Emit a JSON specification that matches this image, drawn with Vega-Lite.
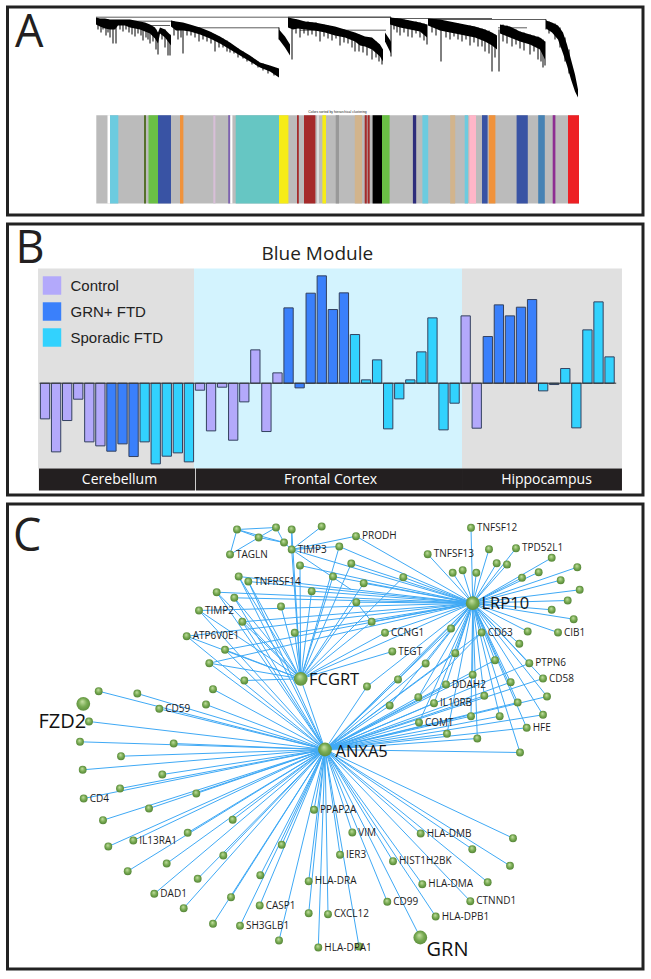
{
"$schema":"https://vega.github.io/schema/vega-lite/v6.json",
"padding":{"left":5.5,"top":5,"right":0,"bottom":0},
"background":"white",
"spacing":5,
"config":{"view":{"stroke":"#222222","strokeWidth":3}},
"resolve":{"scale":{"color":"independent"}},
"datasets":{
"strip":[
{"start":96.3,"end":579,"top":115.7,"bottom":204,"module":"grey"},{"start":107.5,"end":110,"top":115.7,"bottom":204,"module":"white"},{"start":110,"end":118.3,"top":115.7,"bottom":204,"module":"skyblue"},{"start":144,"end":146,"top":115.7,"bottom":204,"module":"darkolivegreen"},{"start":148.5,"end":158,"top":115.7,"bottom":204,"module":"green"},{"start":158,"end":171,"top":115.7,"bottom":204,"module":"blue"},{"start":180,"end":183.4,"top":115.7,"bottom":204,"module":"orange"},{"start":213.3,"end":215.4,"top":115.7,"bottom":204,"module":"thistle"},{"start":228.2,"end":230.3,"top":115.7,"bottom":204,"module":"mediumpurple"},{"start":230.3,"end":232.4,"top":115.7,"bottom":204,"module":"white"},{"start":235.7,"end":279,"top":115.7,"bottom":204,"module":"turquoise"},{"start":279,"end":288.4,"top":115.7,"bottom":204,"module":"yellow"},{"start":297,"end":298.8,"top":115.7,"bottom":204,"module":"brown"},{"start":304,"end":315.4,"top":115.7,"bottom":204,"module":"brown"},{"start":317.5,"end":318.5,"top":115.7,"bottom":204,"module":"white"},{"start":322.4,"end":326,"top":115.7,"bottom":204,"module":"yellow"},{"start":335.7,"end":339,"top":115.7,"bottom":204,"module":"darkgrey"},{"start":354.8,"end":362,"top":115.7,"bottom":204,"module":"tan"},{"start":364.7,"end":366.8,"top":115.7,"bottom":204,"module":"brown"},{"start":367.6,"end":369.7,"top":115.7,"bottom":204,"module":"brown"},{"start":372.6,"end":382,"top":115.7,"bottom":204,"module":"black"},{"start":382,"end":389.6,"top":115.7,"bottom":204,"module":"green"},{"start":412.9,"end":416.2,"top":115.7,"bottom":204,"module":"midnightblue"},{"start":422.4,"end":428.2,"top":115.7,"bottom":204,"module":"skyblue"},{"start":450.2,"end":455.2,"top":115.7,"bottom":204,"module":"tan"},{"start":464.7,"end":468,"top":115.7,"bottom":204,"module":"skyblue"},{"start":469.3,"end":476,"top":115.7,"bottom":204,"module":"pink"},{"start":482,"end":487.6,"top":115.7,"bottom":204,"module":"blue"},{"start":488.8,"end":495.4,"top":115.7,"bottom":204,"module":"orange"},{"start":516.6,"end":527.8,"top":115.7,"bottom":204,"module":"blue"},{"start":538.2,"end":544.8,"top":115.7,"bottom":204,"module":"steelblue"},{"start":552.7,"end":555.4,"top":115.7,"bottom":204,"module":"purple"},{"start":568,"end":579,"top":115.7,"bottom":204,"module":"red"}
],
"tree":[
{"b":1,"x":96,"t":18,"u":25},{"b":1,"x":100,"t":19,"u":27},{"b":1,"x":105,"t":19,"u":29},{"b":1,"x":110,"t":20,"u":30},{"b":1,"x":115,"t":20,"u":30},{"b":1,"x":118,"t":20,"u":26},{"b":1,"x":125,"t":20,"u":26},{"b":1,"x":130,"t":20,"u":28},{"b":1,"x":135,"t":21,"u":29},{"b":1,"x":140,"t":22,"u":30},{"b":1,"x":145,"t":23,"u":32},{"b":1,"x":150,"t":25,"u":34},{"b":1,"x":155,"t":28,"u":39},{"b":1,"x":158,"t":33,"u":44},{"b":1,"x":160,"t":28,"u":34},{"b":1,"x":165,"t":30,"u":38},{"b":1,"x":171,"t":36,"u":46},
{"b":2,"x":171,"t":21,"u":27},{"b":2,"x":176,"t":22,"u":31},{"b":2,"x":183,"t":23,"u":31},{"b":2,"x":190,"t":25,"u":32},{"b":2,"x":200,"t":28,"u":35},{"b":2,"x":210,"t":32,"u":39},{"b":2,"x":220,"t":37,"u":44},{"b":2,"x":230,"t":43,"u":50},{"b":2,"x":240,"t":50,"u":56},{"b":2,"x":250,"t":56,"u":62},{"b":2,"x":260,"t":63,"u":68},{"b":2,"x":270,"t":66,"u":72},{"b":2,"x":279,"t":69,"u":78},
{"b":3,"x":279,"t":30,"u":40},{"b":3,"x":285,"t":37,"u":48},{"b":3,"x":290,"t":45,"u":56},
{"b":4,"x":288,"t":18,"u":28},{"b":4,"x":293,"t":19,"u":30},{"b":4,"x":298,"t":20,"u":29},{"b":4,"x":305,"t":22,"u":30},{"b":4,"x":315,"t":23,"u":31},{"b":4,"x":325,"t":25,"u":33},{"b":4,"x":335,"t":27,"u":36},{"b":4,"x":345,"t":30,"u":38},{"b":4,"x":355,"t":33,"u":42},{"b":4,"x":360,"t":35,"u":46},{"b":4,"x":365,"t":37,"u":47},{"b":4,"x":372,"t":38,"u":50},{"b":4,"x":380,"t":45,"u":57},{"b":4,"x":383,"t":50,"u":62},
{"b":5,"x":385,"t":33,"u":42},{"b":5,"x":391,"t":42,"u":54},
{"b":6,"x":390,"t":18,"u":25},{"b":6,"x":400,"t":19,"u":28},{"b":6,"x":410,"t":21,"u":30},{"b":6,"x":420,"t":23,"u":32},{"b":6,"x":427,"t":25,"u":38},
{"b":7,"x":428,"t":19,"u":26},{"b":7,"x":440,"t":20,"u":31},{"b":7,"x":445,"t":21,"u":32},{"b":7,"x":455,"t":23,"u":34},{"b":7,"x":465,"t":25,"u":36},{"b":7,"x":475,"t":27,"u":38},{"b":7,"x":485,"t":30,"u":42},{"b":7,"x":492,"t":33,"u":46},{"b":7,"x":497,"t":36,"u":50},
{"b":8,"x":500,"t":25,"u":34},{"b":8,"x":510,"t":27,"u":38},{"b":8,"x":520,"t":32,"u":42},{"b":8,"x":530,"t":35,"u":45},{"b":8,"x":540,"t":38,"u":50},{"b":8,"x":545,"t":42,"u":60},
{"b":9,"x":546,"t":21,"u":29},{"b":9,"x":552,"t":23,"u":33},{"b":9,"x":558,"t":26,"u":40},{"b":9,"x":563,"t":33,"u":54},{"b":9,"x":567,"t":45,"u":66},{"b":9,"x":571,"t":60,"u":80},{"b":9,"x":575,"t":75,"u":92},{"b":9,"x":578,"t":90,"u":98}
],
"spikes":[
{"x":98,"t":20,"u":30},{"x":101,"t":20,"u":33},{"x":103,"t":20,"u":30},{"x":106,"t":20,"u":36},{"x":108,"t":20,"u":33},{"x":110,"t":22,"u":38},{"x":113,"t":25,"u":44},{"x":116,"t":25,"u":44},{"x":120,"t":22,"u":30},{"x":123,"t":22,"u":32},{"x":126,"t":22,"u":30},{"x":129,"t":22,"u":33},{"x":132,"t":22,"u":35},{"x":135,"t":25,"u":37},{"x":138,"t":25,"u":34},{"x":141,"t":25,"u":36},{"x":143,"t":25,"u":41},{"x":146,"t":25,"u":38},{"x":148,"t":25,"u":40},{"x":150,"t":28,"u":44},{"x":153,"t":28,"u":42},{"x":156,"t":30,"u":50},{"x":158,"t":35,"u":55},{"x":162,"t":30,"u":40},{"x":165,"t":30,"u":48},{"x":168,"t":35,"u":56},{"x":170,"t":35,"u":56},
{"x":174,"t":22,"u":36},{"x":178,"t":24,"u":40},{"x":181,"t":25,"u":38},{"x":183,"t":25,"u":54},{"x":187,"t":26,"u":36},{"x":191,"t":27,"u":36},{"x":195,"t":28,"u":38},{"x":199,"t":28,"u":42},{"x":203,"t":30,"u":40},{"x":207,"t":32,"u":42},{"x":211,"t":33,"u":44},{"x":215,"t":35,"u":52},{"x":219,"t":37,"u":48},{"x":223,"t":39,"u":48},{"x":227,"t":41,"u":52},{"x":230,"t":45,"u":53},{"x":234,"t":47,"u":54},{"x":238,"t":49,"u":58},{"x":243,"t":52,"u":59},{"x":247,"t":55,"u":62},{"x":252,"t":58,"u":65},{"x":258,"t":62,"u":68},{"x":263,"t":64,"u":71},{"x":268,"t":66,"u":74},{"x":274,"t":68,"u":76},
{"x":292,"t":20,"u":60},{"x":296,"t":20,"u":34},{"x":300,"t":22,"u":38},{"x":304,"t":22,"u":34},{"x":308,"t":22,"u":36},{"x":312,"t":23,"u":35},{"x":316,"t":23,"u":37},{"x":320,"t":25,"u":42},{"x":324,"t":25,"u":37},{"x":328,"t":26,"u":39},{"x":332,"t":27,"u":41},{"x":336,"t":28,"u":39},{"x":340,"t":30,"u":46},{"x":344,"t":30,"u":43},{"x":348,"t":31,"u":44},{"x":352,"t":33,"u":48},{"x":355,"t":35,"u":52},{"x":359,"t":35,"u":52},{"x":363,"t":37,"u":53},{"x":367,"t":38,"u":56},{"x":372,"t":40,"u":60},{"x":376,"t":42,"u":58},{"x":379,"t":45,"u":62},{"x":382,"t":50,"u":65},
{"x":394,"t":19,"u":30},{"x":397,"t":19,"u":33},{"x":400,"t":20,"u":36},{"x":404,"t":20,"u":33},{"x":408,"t":21,"u":37},{"x":412,"t":22,"u":38},{"x":416,"t":22,"u":34},{"x":420,"t":23,"u":38},{"x":424,"t":24,"u":41},{"x":427,"t":25,"u":45},
{"x":432,"t":20,"u":33},{"x":436,"t":20,"u":36},{"x":441,"t":22,"u":62},{"x":446,"t":22,"u":38},{"x":450,"t":23,"u":40},{"x":454,"t":24,"u":37},{"x":458,"t":24,"u":40},{"x":462,"t":25,"u":42},{"x":466,"t":26,"u":40},{"x":470,"t":26,"u":46},{"x":474,"t":27,"u":43},{"x":478,"t":28,"u":47},{"x":482,"t":29,"u":47},{"x":485,"t":30,"u":52},{"x":489,"t":31,"u":54},{"x":492,"t":35,"u":72},{"x":495,"t":35,"u":58},{"x":499,"t":30,"u":72},
{"x":503,"t":25,"u":42},{"x":507,"t":26,"u":44},{"x":512,"t":30,"u":47},{"x":516,"t":30,"u":45},{"x":520,"t":32,"u":49},{"x":524,"t":33,"u":51},{"x":530,"t":35,"u":55},{"x":534,"t":36,"u":52},{"x":538,"t":37,"u":60},{"x":541,"t":39,"u":62},{"x":543,"t":40,"u":68},{"x":545,"t":42,"u":66},
{"x":391,"t":18,"u":57},{"x":279,"t":28,"u":40},{"x":546,"t":20,"u":30},{"x":549,"t":22,"u":34},{"x":555,"t":24,"u":40},{"x":560,"t":28,"u":48},{"x":565,"t":38,"u":62},{"x":569,"t":50,"u":74}
],
"connectors":[
{"x":96,"xEnd":391,"y":17.7},{"x":96,"xEnd":172,"y":21.7},{"x":183,"xEnd":279,"y":28.3},{"x":288,"xEnd":391,"y":17.7},{"x":300,"xEnd":386,"y":30.7},{"x":390,"xEnd":492,"y":19},{"x":428,"xEnd":546,"y":20},{"x":498,"xEnd":527,"y":28.3},{"x":150,"xEnd":170,"y":26}
],
"bars":[
{"sample":1,"value":-0.107,"group":"Control"},{"sample":2,"value":-0.206,"group":"Control"},{"sample":3,"value":-0.112,"group":"Control"},{"sample":4,"value":-0.048,"group":"Control"},{"sample":5,"value":-0.176,"group":"Control"},{"sample":6,"value":-0.188,"group":"Control"},{"sample":7,"value":-0.204,"group":"GRN+ FTD"},{"sample":8,"value":-0.182,"group":"GRN+ FTD"},{"sample":9,"value":-0.22,"group":"GRN+ FTD"},{"sample":10,"value":-0.176,"group":"Sporadic FTD"},{"sample":11,"value":-0.242,"group":"Sporadic FTD"},{"sample":12,"value":-0.219,"group":"Sporadic FTD"},{"sample":13,"value":-0.209,"group":"Sporadic FTD"},{"sample":14,"value":-0.236,"group":"Sporadic FTD"},
{"sample":15,"value":-0.021,"group":"Control"},{"sample":16,"value":-0.143,"group":"Control"},{"sample":17,"value":-0.012,"group":"Control"},{"sample":18,"value":-0.171,"group":"Control"},{"sample":19,"value":-0.056,"group":"Control"},{"sample":20,"value":0.1,"group":"Control"},{"sample":21,"value":-0.145,"group":"Control"},{"sample":22,"value":0.031,"group":"Control"},{"sample":23,"value":0.226,"group":"GRN+ FTD"},{"sample":24,"value":-0.014,"group":"GRN+ FTD"},{"sample":25,"value":0.27,"group":"GRN+ FTD"},{"sample":26,"value":0.322,"group":"GRN+ FTD"},{"sample":27,"value":0.221,"group":"GRN+ FTD"},{"sample":28,"value":0.271,"group":"GRN+ FTD"},{"sample":29,"value":0.146,"group":"Sporadic FTD"},{"sample":30,"value":0.01,"group":"Sporadic FTD"},{"sample":31,"value":0.07,"group":"Sporadic FTD"},{"sample":32,"value":-0.137,"group":"Sporadic FTD"},{"sample":33,"value":-0.047,"group":"Sporadic FTD"},{"sample":34,"value":0.01,"group":"Sporadic FTD"},{"sample":35,"value":0.094,"group":"Sporadic FTD"},{"sample":36,"value":0.196,"group":"Sporadic FTD"},{"sample":37,"value":-0.14,"group":"Sporadic FTD"},{"sample":38,"value":-0.06,"group":"Sporadic FTD"},
{"sample":39,"value":0.202,"group":"Control"},{"sample":40,"value":-0.135,"group":"Control"},{"sample":41,"value":0.14,"group":"GRN+ FTD"},{"sample":42,"value":0.235,"group":"GRN+ FTD"},{"sample":43,"value":0.202,"group":"GRN+ FTD"},{"sample":44,"value":0.228,"group":"GRN+ FTD"},{"sample":45,"value":0.251,"group":"GRN+ FTD"},{"sample":46,"value":-0.023,"group":"Sporadic FTD"},{"sample":47,"value":-0.004,"group":"Sporadic FTD"},{"sample":48,"value":0.044,"group":"Sporadic FTD"},{"sample":49,"value":-0.134,"group":"Sporadic FTD"},{"sample":50,"value":0.16,"group":"Sporadic FTD"},{"sample":51,"value":0.244,"group":"Sporadic FTD"},{"sample":52,"value":0.079,"group":"Sporadic FTD"}
],
"regions":[
{"region":"Cerebellum","from":0.37,"to":14.46,"stripFrom":0.45,"stripTo":14.55,"mid":7.73,"top":0.344,"bottom":-0.256,"stripTop":-0.256,"stripBottom":-0.322,"labelY":-0.289},{"region":"Frontal Cortex","from":14.46,"to":38.67,"stripFrom":14.62,"stripTo":38.67,"mid":26.8,"top":0.344,"bottom":-0.256,"stripTop":-0.256,"stripBottom":-0.322,"labelY":-0.289},{"region":"Hippocampus","from":38.67,"to":53.12,"stripFrom":38.67,"stripTo":53.12,"mid":46.3,"top":0.344,"bottom":-0.256,"stripTop":-0.256,"stripBottom":-0.322,"labelY":-0.289}
],
"nodes":[
{"x":237,"y":530,"links":""},{"x":276,"y":528,"links":""},{"x":258.7,"y":538,"links":""},{"x":284,"y":543,"links":""},{"x":230,"y":555,"links":"","label":"TAGLN"},
{"x":291.7,"y":530,"links":"F"},{"x":291.7,"y":550,"links":"FL","label":"TIMP3"},{"x":300,"y":566,"links":"FL"},{"x":321.7,"y":527,"links":""},
{"x":238.7,"y":577,"links":"AFL"},{"x":248.3,"y":582,"links":"AFL","label":"TNFRSF14"},{"x":216.7,"y":592.7,"links":"AFL"},{"x":234.3,"y":598.3,"links":"AFL"},{"x":311.7,"y":591.7,"links":"FL"},{"x":281,"y":607,"links":"F"},{"x":199,"y":611,"links":"AFL","label":"TIMP2"},{"x":242.3,"y":622.3,"links":"AFL"},{"x":294.7,"y":633.3,"links":"FL"},{"x":186.7,"y":636.7,"links":"AFL","label":"ATP6V0E1"},{"x":225,"y":650.3,"links":"AFL"},{"x":209.3,"y":663.7,"links":"AFL"},{"x":244.3,"y":681,"links":"F"},
{"x":213,"y":689.7,"links":"A"},{"x":98.7,"y":691.7,"links":"A"},{"x":137.3,"y":694,"links":"A"},{"x":206,"y":705,"links":"A"},{"x":159.3,"y":709.3,"links":"A","label":"CD59"},{"x":89,"y":722,"links":"A"},{"x":80,"y":742.3,"links":"A"},{"x":173.7,"y":744,"links":"A"},
{"x":121,"y":756.7,"links":"A"},{"x":82.7,"y":770.3,"links":"A"},{"x":162.3,"y":775,"links":"A"},{"x":120,"y":789,"links":"A"},{"x":83.7,"y":799,"links":"A","label":"CD4"},{"x":196.3,"y":794,"links":"A"},{"x":149,"y":809,"links":"A"},{"x":103,"y":820.7,"links":"A"},{"x":232.7,"y":820.3,"links":"A"},{"x":187.7,"y":833.3,"links":"A"},{"x":108.3,"y":847,"links":"A"},{"x":133.3,"y":841,"links":"A","label":"IL13RA1"},{"x":281.7,"y":845.3,"links":"A"},{"x":223.3,"y":856,"links":"A"},{"x":166.7,"y":864,"links":"A"},{"x":127.7,"y":871.7,"links":"A"},{"x":260.3,"y":875.7,"links":"A"},{"x":197.7,"y":879.3,"links":"A"},{"x":308.7,"y":881.7,"links":"A","label":"HLA-DRA"},{"x":314,"y":810.3,"links":"A","label":"PPAP2A"},{"x":154.3,"y":894.3,"links":"A","label":"DAD1"},{"x":231,"y":897.7,"links":"A"},{"x":183.7,"y":908.7,"links":"A"},{"x":259.7,"y":906,"links":"A","label":"CASP1"},{"x":308.7,"y":913.7,"links":"A"},{"x":328,"y":914.7,"links":"A","label":"CXCL12"},{"x":213,"y":924.3,"links":"A"},{"x":240,"y":926.3,"links":"A","label":"SH3GLB1"},{"x":279,"y":941,"links":"A"},{"x":318.3,"y":948,"links":"A","label":"HLA-DPA1"},
{"x":520,"y":753,"links":"AL"},{"x":352.3,"y":833,"links":"A","label":"VIM"},{"x":340,"y":855.3,"links":"A","label":"IER3"},{"x":420.7,"y":834,"links":"A","label":"HLA-DMB"},{"x":472.3,"y":849.7,"links":"A"},{"x":513,"y":838.7,"links":"A"},{"x":510,"y":866.3,"links":"A"},{"x":487.7,"y":882.7,"links":"A"},{"x":393,"y":861.7,"links":"A","label":"HIST1H2BK"},{"x":422.3,"y":884.7,"links":"A","label":"HLA-DMA"},{"x":470.3,"y":901.7,"links":"A","label":"CTNND1"},{"x":387.3,"y":902.3,"links":"A","label":"CD99"},{"x":435.7,"y":917,"links":"A","label":"HLA-DPB1"},{"x":359,"y":947,"links":"A"},
{"x":356,"y":536.7,"links":"L","label":"PRODH"},{"x":339.3,"y":547,"links":"FL"},{"x":351.3,"y":564,"links":"FL"},{"x":333,"y":577,"links":"FL"},{"x":363.7,"y":583.7,"links":"FL"},{"x":403.3,"y":577.7,"links":"FL"},{"x":356.3,"y":602.7,"links":"FL"},{"x":371.7,"y":622.3,"links":"FL"},{"x":385,"y":633.3,"links":"FL","label":"CCNG1"},{"x":392.3,"y":652,"links":"F","label":"TEGT"},{"x":367,"y":687,"links":"AL"},{"x":398,"y":680,"links":"AL"},{"x":389.7,"y":706,"links":"AL"},{"x":425.7,"y":664,"links":"AL"},{"x":451,"y":629,"links":"AL"},{"x":455.3,"y":653.7,"links":"AL"},{"x":418.3,"y":697.7,"links":"AL"},{"x":446,"y":685,"links":"AL","label":"DDAH2"},{"x":434,"y":703.7,"links":"AL","label":"IL10RB"},{"x":419,"y":723,"links":"AL","label":"COMT"},{"x":447,"y":734.3,"links":"AL"},{"x":471,"y":716.7,"links":"AL"},{"x":477.3,"y":739,"links":"AL"},{"x":472.7,"y":675.3,"links":"AL"},{"x":484.3,"y":696.3,"links":"AL"},{"x":495,"y":660.7,"links":"AL"},{"x":481.7,"y":633,"links":"AL","label":"CD63"},{"x":510.7,"y":682.7,"links":"AL"},{"x":517.7,"y":703,"links":"AL"},{"x":499.7,"y":716.7,"links":"AL"},{"x":526.7,"y":728.3,"links":"AL","label":"HFE"},{"x":543,"y":715.3,"links":"AL"},{"x":547,"y":697,"links":"AL"},{"x":543,"y":679,"links":"AL","label":"CD58"},{"x":529.3,"y":663.7,"links":"AL","label":"PTPN6"},{"x":519.3,"y":644.3,"links":"L"},{"x":527.7,"y":632,"links":"L"},{"x":558,"y":633,"links":"L","label":"CIB1"},{"x":573.7,"y":619.7,"links":"L"},{"x":551.7,"y":610.3,"links":"L"},{"x":567.7,"y":601,"links":"L"},{"x":579.7,"y":590.3,"links":"L"},{"x":560.7,"y":580.7,"links":"L"},{"x":577.3,"y":567.7,"links":"L"},{"x":538.7,"y":572.7,"links":"L"},{"x":522,"y":578.3,"links":"L"},{"x":551.7,"y":558.3,"links":"L"},{"x":516,"y":548.7,"links":"L","label":"TPD52L1"},{"x":507,"y":565,"links":"L"},{"x":496.7,"y":563.7,"links":"L"},{"x":489,"y":549.7,"links":"L"},{"x":471,"y":528.3,"links":"L","label":"TNFSF12"},{"x":476.3,"y":573.3,"links":"L"},{"x":462.7,"y":570.7,"links":"L"},{"x":452.7,"y":573.3,"links":"L"},{"x":427.7,"y":554.7,"links":"L","label":"TNFSF13"}
],
"hubs":[
{"gene":"LRP10","x":472.7,"y":603.7,"links":"A","nameX":481.5,"nameY":604,"big":false},{"gene":"FCGRT","x":300.7,"y":679.3,"links":"AL","nameX":309,"nameY":680,"big":false},{"gene":"ANXA5","x":325,"y":750,"links":"","nameX":335.5,"nameY":752,"big":false},{"gene":"FZD2","x":83.3,"y":704.3,"links":"","nameX":38.5,"nameY":722,"big":true},{"gene":"GRN","x":420.3,"y":938,"links":"A","nameX":426.5,"nameY":950,"big":true}
],
"extra":[
{"x":237,"y":530,"xEnd":276,"yEnd":528},{"x":237,"y":530,"xEnd":258.7,"yEnd":538},{"x":237,"y":530,"xEnd":230,"yEnd":555},{"x":230,"y":555,"xEnd":258.7,"yEnd":538},{"x":258.7,"y":538,"xEnd":276,"yEnd":528},{"x":258.7,"y":538,"xEnd":284,"yEnd":543},{"x":276,"y":528,"xEnd":284,"yEnd":543},{"x":237,"y":530,"xEnd":284,"yEnd":543},{"x":284,"y":543,"xEnd":291.7,"yEnd":550},{"x":321.7,"y":527,"xEnd":291.7,"yEnd":550},{"x":356,"y":536.7,"xEnd":291.7,"yEnd":550},{"x":339.3,"y":547,"xEnd":291.7,"yEnd":550},{"x":291.7,"y":530,"xEnd":291.7,"yEnd":550},{"x":291.7,"y":550,"xEnd":351,"yEnd":590},{"x":356.3,"y":602.7,"xEnd":371.7,"yEnd":622.3},{"x":481.7,"y":633,"xEnd":418.3,"yEnd":697.7}
]
},
"vconcat":[
{"width":635.5,"height":208,
"encoding":{
"x":{"field":"x","type":"quantitative","scale":{"domain":[7.5,643],"zero":false,"nice":false},"axis":null},
"y":{"field":"y","type":"quantitative","scale":{"domain":[7.5,215.5],"reverse":true,"zero":false,"nice":false},"axis":null}
},
"layer":[
{"data":{"name":"strip"},"mark":{"type":"rect"},"encoding":{"x":{"field":"start","type":"quantitative","scale":{"domain":[7.5,643],"zero":false,"nice":false},"axis":null},"x2":{"field":"end"},"y":{"field":"top","type":"quantitative","scale":{"domain":[7.5,215.5],"reverse":true,"zero":false,"nice":false},"axis":null},"y2":{"field":"bottom"},"color":{"field":"module","type":"nominal","legend":null,"scale":{"domain":["grey","white","skyblue","darkolivegreen","green","blue","orange","thistle","mediumpurple","turquoise","yellow","brown","darkgrey","tan","black","midnightblue","pink","steelblue","purple","red"],"range":["#bbbbbb","#ffffff","#6ccbdf","#55702a","#6abf45","#3953a4","#f0923b","#d8bfd8","#7d63b0","#66c6c3","#f6ec16","#a52a2a","#999999","#d2b48c","#000000","#2e2d7b","#ffb6c8","#4682b4","#8e2d92","#ed2024"]}}}},
{"data":{"name":"connectors"},"mark":{"type":"rule","stroke":"#333333","strokeWidth":0.8},"encoding":{"x2":{"field":"xEnd"}}},
{"data":{"name":"tree"},"mark":{"type":"area","color":"#000000","line":false},"encoding":{"y":{"field":"t","type":"quantitative","stack":null,"scale":{"domain":[7.5,215.5],"reverse":true,"zero":false,"nice":false},"axis":null},"y2":{"field":"u"},"detail":{"field":"b"}}},
{"data":{"name":"spikes"},"mark":{"type":"rule","color":"#000000","strokeWidth":1},"encoding":{"y":{"field":"t","type":"quantitative","scale":{"domain":[7.5,215.5],"reverse":true,"zero":false,"nice":false},"axis":null},"y2":{"field":"u"}}},
{"data":{"values":[{"x":337.5,"y":112.7,"caption":"Colors sorted by hierarchical clustering"}]},"mark":{"type":"text","font":"Liberation Sans","fontSize":3.4,"color":"#222222","baseline":"middle"},"encoding":{"text":{"field":"caption"}}},
{"data":{"values":[{"x":15,"y":47,"letter":"A"}]},"mark":{"type":"text","font":"Open Sans","fontSize":45,"color":"#231f20","align":"left","baseline":"alphabetic"},"encoding":{"text":{"field":"letter"}}}
]},
{"width":635.5,"height":271,
"resolve":{"scale":{"color":"independent"}},
"encoding":{
"x":{"field":"sample","type":"quantitative","scale":{"domain":[-2.39,55.02],"zero":false,"nice":false,"padding":0},"axis":null},
"y":{"field":"value","type":"quantitative","stack":null,"scale":{"domain":[-0.3354,0.4776],"zero":false,"nice":false},"axis":null}
},
"layer":[
{"data":{"name":"regions"},"mark":{"type":"rect"},"encoding":{"x":{"field":"from","type":"quantitative","scale":{"domain":[-2.39,55.02],"zero":false,"nice":false,"padding":0},"axis":null},"x2":{"field":"to"},"y":{"field":"top","type":"quantitative","scale":{"domain":[-0.3354,0.4776],"zero":false,"nice":false},"axis":null},"y2":{"field":"bottom"},"color":{"field":"region","type":"nominal","legend":null,"scale":{"domain":["Cerebellum","Frontal Cortex","Hippocampus"],"range":["#e0e0e0","#d3f3fe","#e0e0e0"]}}}},
{"data":{"name":"regions"},"mark":{"type":"rect","color":"#231f20"},"encoding":{"x":{"field":"stripFrom","type":"quantitative","scale":{"domain":[-2.39,55.02],"zero":false,"nice":false,"padding":0},"axis":null},"x2":{"field":"stripTo"},"y":{"field":"stripTop","type":"quantitative","scale":{"domain":[-0.3354,0.4776],"zero":false,"nice":false},"axis":null},"y2":{"field":"stripBottom"}}},
{"data":{"name":"bars"},"mark":{"type":"bar","size":9.3,"stroke":"#33405f","strokeWidth":1,"orient":"vertical"},"encoding":{"y2":{"datum":0},"color":{"field":"group","type":"nominal","scale":{"domain":["Control","GRN+ FTD","Sporadic FTD"],"range":["#b3a9fb","#3a80fb","#32d2fe"]},"legend":{"title":null,"orient":"none","legendX":35,"legendY":52,"symbolType":"square","symbolSize":340,"symbolStrokeWidth":0,"labelFont":"Liberation Sans","labelFontSize":15,"labelColor":"#222222","labelOffset":9,"rowPadding":7,"padding":0}}}},
{"data":{"values":[{"from":0.5,"to":52.6,"level":0}]},"mark":{"type":"rule","color":"#333333","strokeWidth":1},"encoding":{"x":{"field":"from","type":"quantitative","scale":{"domain":[-2.39,55.02],"zero":false,"nice":false,"padding":0},"axis":null},"x2":{"field":"to"},"y":{"field":"level","type":"quantitative","scale":{"domain":[-0.3354,0.4776],"zero":false,"nice":false},"axis":null}}},
{"data":{"name":"regions"},"mark":{"type":"text","font":"Open Sans","fontSize":14,"color":"#ffffff","baseline":"middle"},"encoding":{"x":{"field":"mid","type":"quantitative","scale":{"domain":[-2.39,55.02],"zero":false,"nice":false,"padding":0},"axis":null},"y":{"field":"labelY","type":"quantitative","scale":{"domain":[-0.3354,0.4776],"zero":false,"nice":false},"axis":null},"text":{"field":"region"}}},
{"data":{"values":[{"sample":25.6,"value":0.388,"title":"Blue Module"}]},"mark":{"type":"text","font":"Open Sans","fontSize":19,"color":"#231f20","baseline":"middle"},"encoding":{"text":{"field":"title"}}},
{"data":{"values":[{"sample":-2.39,"value":0.362,"letter":"B"}]},"mark":{"type":"text","font":"Open Sans","fontSize":45,"color":"#231f20","align":"left","baseline":"alphabetic","dx":8},"encoding":{"text":{"field":"letter"}}}
]},
{"width":635.5,"height":465,
"encoding":{
"x":{"field":"x","type":"quantitative","scale":{"domain":[7.5,643],"zero":false,"nice":false},"axis":null},
"y":{"field":"y","type":"quantitative","scale":{"domain":[504.5,969.5],"reverse":true,"zero":false,"nice":false},"axis":null}
},
"layer":[
{"data":{"name":"nodes"},"transform":[{"filter":"test(/A/,datum.links)"}],"mark":{"type":"rule","color":"#3fa9f5","strokeWidth":1},"encoding":{"x2":{"datum":325},"y2":{"datum":750}}},
{"data":{"name":"nodes"},"transform":[{"filter":"test(/F/,datum.links)"}],"mark":{"type":"rule","color":"#3fa9f5","strokeWidth":1},"encoding":{"x2":{"datum":300.7},"y2":{"datum":679.3}}},
{"data":{"name":"nodes"},"transform":[{"filter":"test(/L/,datum.links)"}],"mark":{"type":"rule","color":"#3fa9f5","strokeWidth":1},"encoding":{"x2":{"datum":472.7},"y2":{"datum":603.7}}},
{"data":{"name":"hubs"},"transform":[{"filter":"test(/A/,datum.links)"}],"mark":{"type":"rule","color":"#3fa9f5","strokeWidth":1},"encoding":{"x2":{"datum":325},"y2":{"datum":750}}},
{"data":{"name":"hubs"},"transform":[{"filter":"test(/L/,datum.links)"}],"mark":{"type":"rule","color":"#3fa9f5","strokeWidth":1},"encoding":{"x2":{"datum":472.7},"y2":{"datum":603.7}}},
{"data":{"name":"extra"},"mark":{"type":"rule","color":"#3fa9f5","strokeWidth":1},"encoding":{"x2":{"field":"xEnd"},"y2":{"field":"yEnd"}}},
{"data":{"name":"nodes"},"mark":{"type":"circle","size":62,"opacity":1,"fill":{"gradient":"radial","x1":0.42,"y1":0.32,"r1":0,"x2":0.5,"y2":0.5,"r2":0.55,"stops":[{"offset":0,"color":"#c8e2a6"},{"offset":0.55,"color":"#78ab52"},{"offset":1,"color":"#4f7f33"}]}}},
{"data":{"name":"hubs"},"mark":{"type":"circle","size":190,"opacity":1,"fill":{"gradient":"radial","x1":0.42,"y1":0.32,"r1":0,"x2":0.5,"y2":0.5,"r2":0.55,"stops":[{"offset":0,"color":"#c8e2a6"},{"offset":0.55,"color":"#78ab52"},{"offset":1,"color":"#5b8c3c"}]}}},
{"data":{"name":"nodes"},"transform":[{"filter":"isValid(datum.label)"}],"mark":{"type":"text","font":"Open Sans","fontSize":10,"color":"#1c1c1c","align":"left","baseline":"middle","dx":6},"encoding":{"text":{"field":"label"}}},
{"data":{"name":"hubs"},"transform":[{"filter":"!datum.big"}],"mark":{"type":"text","font":"Open Sans","fontSize":16.5,"color":"#111111","align":"left","baseline":"middle"},"encoding":{"x":{"field":"nameX","type":"quantitative","scale":{"domain":[7.5,643],"zero":false,"nice":false},"axis":null},"y":{"field":"nameY","type":"quantitative","scale":{"domain":[504.5,969.5],"reverse":true,"zero":false,"nice":false},"axis":null},"text":{"field":"gene"}}},
{"data":{"name":"hubs"},"transform":[{"filter":"datum.big"}],"mark":{"type":"text","font":"Open Sans","fontSize":20,"color":"#111111","align":"left","baseline":"middle"},"encoding":{"x":{"field":"nameX","type":"quantitative","scale":{"domain":[7.5,643],"zero":false,"nice":false},"axis":null},"y":{"field":"nameY","type":"quantitative","scale":{"domain":[504.5,969.5],"reverse":true,"zero":false,"nice":false},"axis":null},"text":{"field":"gene"}}},
{"data":{"values":[{"x":13,"y":551,"letter":"C"}]},"mark":{"type":"text","font":"Open Sans","fontSize":45,"color":"#231f20","align":"left","baseline":"alphabetic"},"encoding":{"text":{"field":"letter"}}}
]}
]
}
